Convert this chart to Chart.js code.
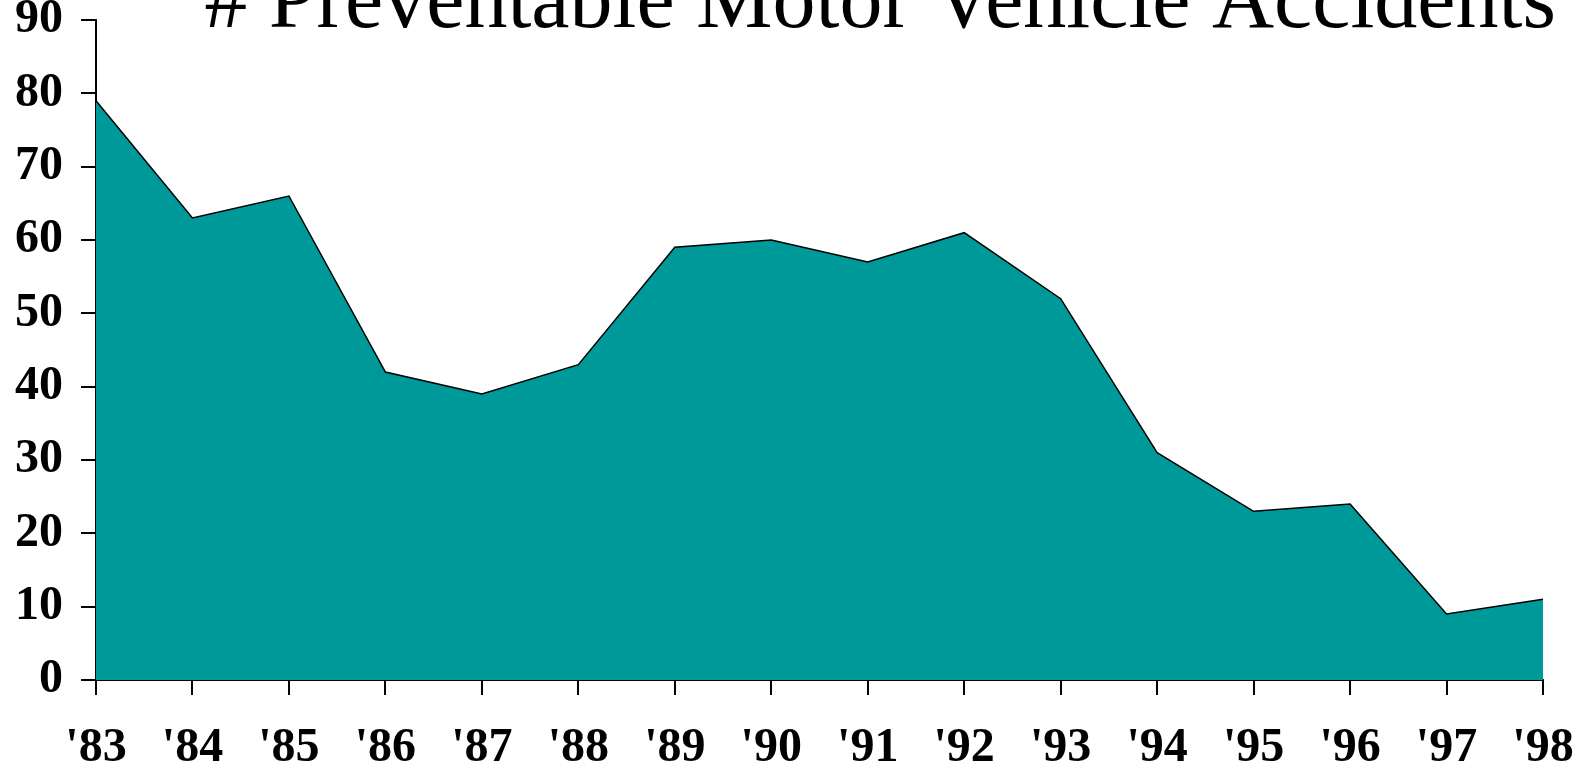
<!DOCTYPE html>
<html>
<head>
<meta charset="utf-8">
<script src="https://cdn.jsdelivr.net/npm/chart.js@4/dist/chart.umd.min.js"></script>
<style>
  html, body { margin: 0; padding: 0; background: #fff; }
  #wrap { width: 1585px; height: 768px; }
</style>
</head>
<body>
<div id="wrap"><canvas id="areaChart" width="1585" height="768"></canvas></div>
<script>
var years = ["'83", "'84", "'85", "'86", "'87", "'88", "'89", "'90", "'91", "'92", "'93", "'94", "'95", "'96", "'97", "'98"];
var accidents = [79, 63, 66, 42, 39, 43, 59, 60, 57, 61, 52, 31, 23, 24, 9, 11];
var titleText = "# Preventable Motor Vehicle Accidents";

// title sits partly above the top edge, so draw it by hand
var topTitle = {
    id: 'topTitle',
    afterDraw: function (chart) {
        var ctx = chart.ctx;
        ctx.save();
        ctx.font = "86px 'Liberation Serif'";
        ctx.fillStyle = "#000";
        ctx.textAlign = "center";
        ctx.textBaseline = "alphabetic";
        ctx.fillText(titleText, 880, 27);
        ctx.restore();
    }
};

var ctxA = document.getElementById("areaChart").getContext('2d');
var myChart = new Chart(ctxA, {
    type: 'line',
    data: {
        labels: years,
        datasets: [{
            data: accidents,
            fill: 'origin',
            backgroundColor: "#009999",
            borderColor: "#000",
            borderWidth: 1.5,
            pointRadius: 0,
            tension: 0
        }]
    },
    options: {
        responsive: false,
        animation: false,
        layout: { padding: { top: 20, right: 42, left: 0, bottom: 0 } },
        plugins: { legend: { display: false }, tooltip: { enabled: false } },
        scales: {
            x: {
                offset: false,
                grid: { drawOnChartArea: false, color: "#000", tickLength: 15, lineWidth: 2 },
                border: { color: "#000", width: 2 },
                ticks: {
                    color: "#000",
                    padding: 25,
                    maxRotation: 0,
                    autoSkip: false,
                    font: { family: "'Liberation Serif'", size: 48, weight: 'bold' }
                },
                afterFit: function (scale) {
                    scale.height = 88;
                    scale.paddingLeft = 0;
                    scale.paddingRight = 0;
                }
            },
            y: {
                min: 0,
                max: 90,
                ticks: {
                    stepSize: 10,
                    color: "#000",
                    padding: 18,
                    font: { family: "'Liberation Serif'", size: 48, weight: 'bold' }
                },
                grid: { drawOnChartArea: false, color: "#000", tickLength: 15, lineWidth: 2 },
                border: { color: "#000", width: 2 },
                afterFit: function (scale) {
                    scale.width = 96;
                    scale.paddingTop = 0;
                    scale.paddingBottom = 0;
                }
            }
        }
    },
    plugins: [topTitle]
});
</script>
</body>
</html>
